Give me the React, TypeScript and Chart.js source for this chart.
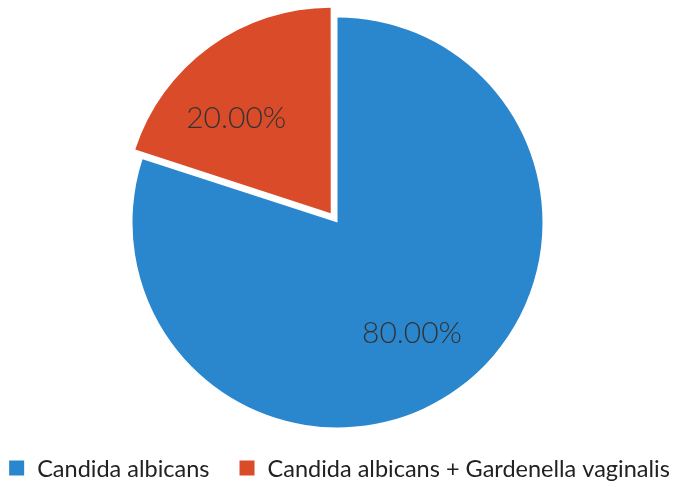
import { useEffect, useRef } from 'react';
import { Chart, registerables } from 'chart.js';

Chart.register(...registerables);

const categories = ['Candida albicans', 'Candida albicans + Gardenella vaginalis'];
const values = [80, 20];
const colors = ['#2B87CD', '#D94B29'];
// Chart.js moves an arc by roughly offset/4, so 46 gives ~12px explode
const sliceOffsets = [0, 46];
const labelAngleShiftDeg = [2, -9];
const labelRadiusFrac = 0.65;
// pie area (exploded slice needs extra room, so the area extends past the top edge)
const plotTop = -5.5;
const plotBottom = 450.5;

function arcShift(offset: number, circumference: number) {
  const base = (offset || 0) / 4;
  const fix = 1 - Math.sin(Math.min(Math.PI, circumference || 0));
  return base + base * fix;
}

export default function App() {
  const ref = useRef<HTMLCanvasElement>(null);

  useEffect(() => {
    if (!ref.current) return;
    const total = values.reduce((a, b) => a + b, 0);

    const pieArea = {
      id: 'pieArea',
      afterLayout(chart: any) {
        const area = chart.chartArea;
        area.top = plotTop;
        area.bottom = plotBottom;
        area.height = plotBottom - plotTop;
      },
    };

    const sliceLabels = {
      id: 'sliceLabels',
      afterDatasetsDraw(chart: any) {
        const ctx = chart.ctx;
        const meta = chart.getDatasetMeta(0);
        ctx.save();
        ctx.font = '300 30px Lato';
        ctx.fillStyle = '#333';
        ctx.textAlign = 'center';
        ctx.textBaseline = 'middle';
        meta.data.forEach((arc: any, i: number) => {
          const { x, y, startAngle, endAngle, outerRadius, circumference } = arc.getProps(
            ['x', 'y', 'startAngle', 'endAngle', 'outerRadius', 'circumference'],
            true
          );
          const mid = (startAngle + endAngle) / 2;
          const s = arcShift(sliceOffsets[i], circumference);
          const cx = x + Math.cos(mid) * s;
          const cy = y + Math.sin(mid) * s;
          const a = mid + (labelAngleShiftDeg[i] * Math.PI) / 180;
          const r = labelRadiusFrac * outerRadius;
          const text = ((values[i] / total) * 100).toFixed(2) + '%';
          ctx.fillText(text, cx + Math.cos(a) * r, cy + Math.sin(a) * r);
        });
        ctx.restore();
      },
    };

    const bottomLegend = {
      id: 'bottomLegend',
      afterDraw(chart: any) {
        const ctx = chart.ctx;
        const box = 15;
        const boxGap = 13;
        const itemGap = 30;
        const centerX = 339.5;
        const centerY = 468;
        ctx.save();
        ctx.font = '23.5px Lato';
        const widths = categories.map((c) => ctx.measureText(c).width);
        const totalW =
          widths.reduce((a, w) => a + box + boxGap + w, 0) + itemGap * (categories.length - 1);
        let x = centerX - totalW / 2;
        ctx.textAlign = 'left';
        ctx.textBaseline = 'middle';
        categories.forEach((c, i) => {
          ctx.fillStyle = colors[i];
          ctx.fillRect(x, centerY - box / 2, box, box);
          ctx.fillStyle = '#222';
          ctx.fillText(c, x + box + boxGap, centerY + 1);
          x += box + boxGap + widths[i] + itemGap;
        });
        ctx.restore();
      },
    };

    const chart = new Chart(ref.current, {
      type: 'pie',
      data: {
        labels: categories,
        datasets: [
          {
            data: values,
            backgroundColor: colors,
            borderWidth: 0,
            offset: sliceOffsets,
            hoverOffset: 0,
            clip: false,
          },
        ],
      },
      options: {
        responsive: true,
        maintainAspectRatio: false,
        animation: false,
        layout: { padding: { top: 0, bottom: 32, left: 0, right: 0 } },
        plugins: {
          tooltip: { enabled: false },
          legend: { display: false },
        },
      },
      plugins: [pieArea, sliceLabels, bottomLegend],
    } as any);

    return () => chart.destroy();
  }, []);

  return (
    <div
      style={{
        position: 'fixed',
        left: 0,
        top: 0,
        width: 675,
        height: 487,
        background: '#fff',
      }}
    >
      <canvas ref={ref} />
    </div>
  );
}
